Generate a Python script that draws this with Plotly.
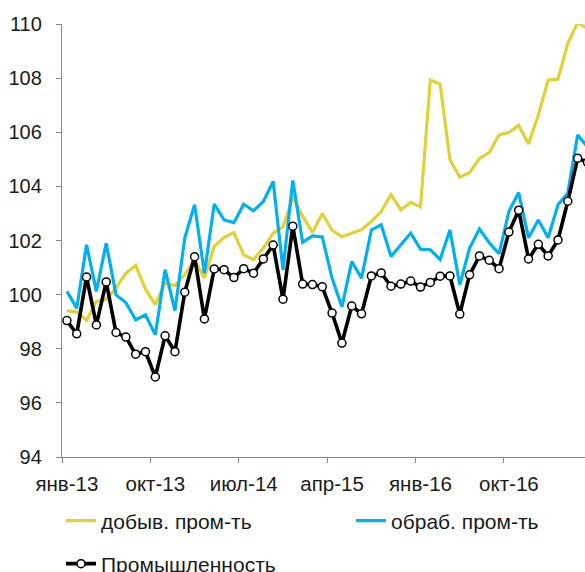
import plotly.graph_objects as go

months_ru = ["янв", "фев", "мар", "апр", "май", "июн", "июл", "авг", "сен", "окт", "ноя", "дек"]
years = ["13", "14", "15", "16", "17"]
categories = [f"{m}-{y}" for y in years for m in months_ru][:54]

mining = [99.40, 99.36, 99.05, 99.75, 99.83, 100.24, 100.79, 101.08, 100.20, 99.63,
          100.43, 100.33, 100.74, 101.29, 100.61, 101.78, 102.12, 102.29, 101.47, 101.29,
          101.72, 102.27, 102.50, 103.60, 102.90, 102.30, 103.00, 102.38, 102.14, 102.27,
          102.40, 102.70, 103.07, 103.70, 103.13, 103.41, 103.24, 107.93, 107.78, 104.98,
          104.34, 104.51, 105.03, 105.25, 105.90, 105.99, 106.26, 105.57, 106.64, 107.93,
          107.96, 109.29, 110.05, 109.84]

manufacturing = [100.12, 99.50, 101.84, 100.12, 101.90, 99.99, 99.71, 99.07, 99.25, 98.52,
                 100.92, 99.41, 102.09, 103.32, 100.79, 103.35, 102.76, 102.66, 103.34, 103.10,
                 103.44, 104.18, 100.92, 104.22, 101.93, 102.17, 102.13, 100.60, 99.55, 101.22,
                 100.61, 102.39, 102.58, 101.41, 101.84, 102.27, 101.68, 101.66, 101.30, 102.39,
                 100.36, 101.72, 102.42, 101.92, 101.51, 103.07, 103.77, 102.10, 102.76, 102.10,
                 103.32, 103.75, 105.90, 105.47]

industry = [99.04, 98.55, 100.65, 98.88, 100.47, 98.60, 98.43, 97.80, 97.89, 96.96,
            98.48, 97.89, 100.09, 101.40, 99.10, 100.95, 100.92, 100.63, 100.96, 100.79,
            101.32, 101.83, 99.83, 102.53, 100.39, 100.37, 100.29, 99.32, 98.21, 99.58,
            99.29, 100.69, 100.80, 100.31, 100.39, 100.50, 100.28, 100.45, 100.68, 100.69,
            99.28, 100.73, 101.43, 101.27, 100.96, 102.31, 103.12, 101.32, 101.86, 101.43,
            102.02, 103.45, 105.04, 104.89]

names = ["добыв. пром-ть", "обраб. пром-ть", "Промышленность"]

FONT = "Liberation Sans, Arial, sans-serif"
AXIS_COLOR = "#898989"
FS = 20
FS_X = 20.5
FS_LEG = 21

W, H = 585, 572

fig = go.Figure()
fig.add_trace(go.Scatter(x=categories, y=mining, name=names[0], mode="lines",
                         line=dict(color="#E2D136", width=3.2), legend="legend",
                         legendwidth=245))
fig.add_trace(go.Scatter(x=categories, y=manufacturing, name=names[1], mode="lines",
                         line=dict(color="#00B0F0", width=3.2), legend="legend",
                         legendwidth=155))
fig.add_trace(go.Scatter(x=categories, y=industry, name=names[2], mode="lines+markers",
                         line=dict(color="#000000", width=3.6),
                         marker=dict(symbol="circle", size=8, color="white",
                                     line=dict(color="black", width=1.5)),
                         legend="legend2"))

fig.update_layout(
    width=W, height=H,
    margin=dict(l=62, r=0, t=24, b=115),
    paper_bgcolor="white", plot_bgcolor="white",
    font=dict(family=FONT, size=FS, color="#1a1a1a"),
    xaxis=dict(type="category", tickmode="linear", tick0=0, dtick=9,
               tickson="boundaries", ticks="outside", ticklen=5, tickcolor=AXIS_COLOR,
               showline=True, linecolor=AXIS_COLOR, linewidth=1.3,
               showgrid=False, zeroline=False, range=[-0.5, 52.75],
               tickangle=0, automargin=False, ticklabelstandoff=8,
               tickfont=dict(size=FS_X)),
    yaxis=dict(range=[94, 110], tickmode="linear", tick0=94, dtick=2,
               ticks="outside", ticklen=5, tickcolor=AXIS_COLOR,
               showline=True, linecolor=AXIS_COLOR, linewidth=1.3,
               showgrid=False, zeroline=False, automargin=False,
               ticklabelstandoff=10, tickfont=dict(size=FS)),
    legend=dict(orientation="h", xref="container", yref="container",
                x=61 / W, y=(H - 521) / H, xanchor="left", yanchor="middle",
                font=dict(size=FS_LEG), bgcolor="rgba(0,0,0,0)"),
    legend2=dict(orientation="h", xref="container", yref="container",
                 x=61 / W, y=(H - 564) / H, xanchor="left", yanchor="middle",
                 font=dict(size=FS_LEG), bgcolor="rgba(0,0,0,0)"),
    showlegend=True,
)

fig.write_html(
    "out.html",
    config={"displayModeBar": False},
    post_script="document.body.style.margin='0';document.body.style.overflow='hidden';",
)
